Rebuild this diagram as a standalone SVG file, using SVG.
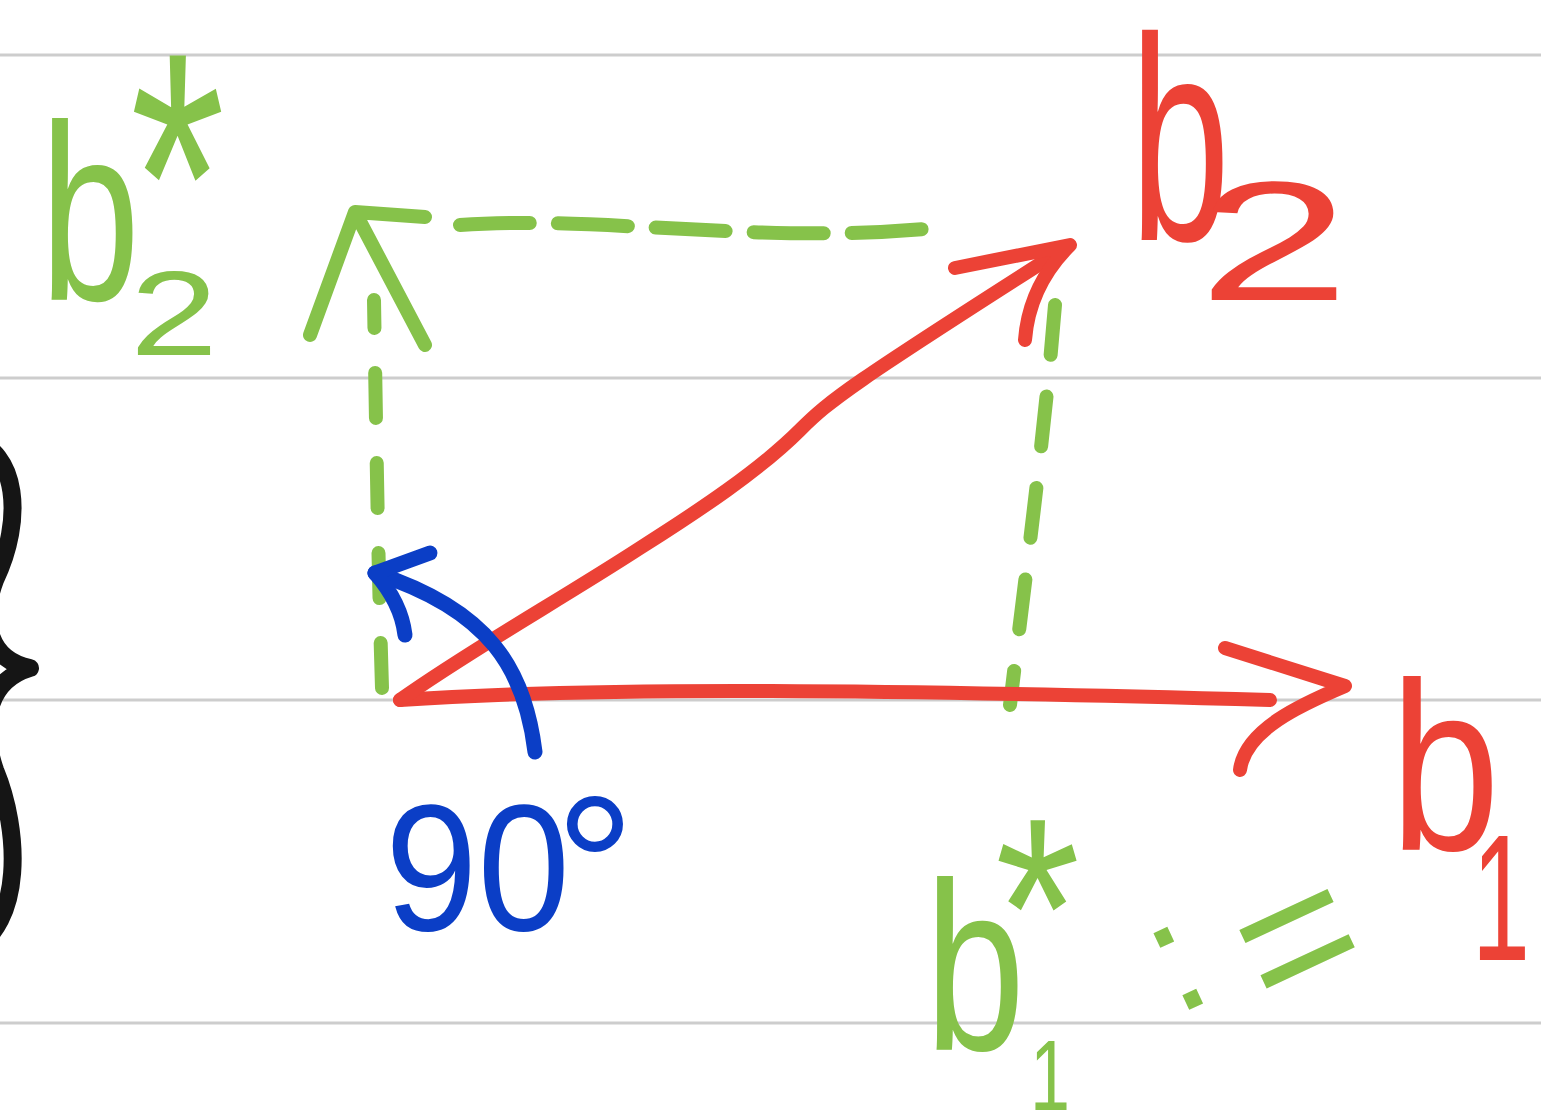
<svg xmlns="http://www.w3.org/2000/svg" width="1541" height="1118" viewBox="0 0 1541 1118">
<style>
.rule{stroke:#cdcdcd;stroke-width:3;fill:none}
.red{stroke:#ec4236;stroke-width:14;fill:none;stroke-linecap:round;stroke-linejoin:round}
.grn{stroke:#86c24a;stroke-width:14;fill:none;stroke-linecap:round;stroke-linejoin:round}
.blu{stroke:#0b3ec6;stroke-width:15;fill:none;stroke-linecap:round;stroke-linejoin:round}
.blk{stroke:#151515;stroke-width:18;fill:none;stroke-linecap:round;stroke-linejoin:round}
text{font-family:"Liberation Sans",Arial,sans-serif}
.tr{fill:#ec4236}
.tg{fill:#86c24a}
.tb{fill:#0b3ec6}
</style>
<rect width="1541" height="1118" fill="#ffffff"/>
<g id="rules">
<line class="rule" x1="0" y1="55" x2="1541" y2="55"/>
<line class="rule" x1="0" y1="378" x2="1541" y2="378"/>
<line class="rule" x1="0" y1="700" x2="1541" y2="700"/>
<line class="rule" x1="0" y1="1023" x2="1541" y2="1023"/>
</g>
<g id="brace">
<path class="blk" d="M-30,440 C18,450 24,520 -5,580 C-20,620 -12,660 30,668 C-10,680 -22,720 -5,770 C20,830 24,925 -30,950"/>
</g>
<g id="connectors">
<path class="grn" stroke-dasharray="45 45" d="M382,688 C378,560 376,420 374,300"/>
<path class="grn" d="M310,335 L355,212 L425,345 M355,212 L425,217"/>
<path class="grn" stroke-dasharray="70 28" d="M460,225 C600,215 760,245 935,228"/>
<path class="grn" stroke-dasharray="50 42" d="M1055,305 C1045,430 1025,580 1010,705"/>
<path class="red" d="M400,700 C600,686 900,690 1270,700"/>
<path class="red" d="M1225,648 L1345,686 C1300,705 1245,730 1240,770"/>
<path class="red" d="M400,700 C470,650 560,600 640,548 C700,510 760,470 800,430 C830,400 850,385 1065,248"/>
<path class="red" d="M955,268 L1070,245 C1045,270 1028,300 1025,340"/>
<path class="blu" d="M535,752 C525,670 490,610 375,573"/>
<path class="blu" d="M430,553 L375,573 C390,590 402,610 405,635"/>
</g>
<g id="label-b2">
<text class="tr" x="1130" y="240" font-size="290" textLength="100" lengthAdjust="spacingAndGlyphs">b</text>
<text class="tr" x="1198" y="300" font-size="170" textLength="152" lengthAdjust="spacingAndGlyphs">2</text>
</g>
<g id="label-b1">
<text class="tr" x="1390" y="850" font-size="240" textLength="110" lengthAdjust="spacingAndGlyphs">b</text>
<text class="tr" x="1472" y="960" font-size="180" textLength="58" lengthAdjust="spacingAndGlyphs">1</text>
</g>
<g id="label-b2star">
<text class="tg" x="40" y="300" font-size="250" textLength="100" lengthAdjust="spacingAndGlyphs">b</text>
<text class="tg" x="130" y="355" font-size="120" textLength="88" lengthAdjust="spacingAndGlyphs">2</text>
<text class="tg" x="130" y="301" font-size="357" textLength="95" lengthAdjust="spacingAndGlyphs">*</text>
</g>
<g id="label-b1star">
<text class="tg" x="925" y="1050" font-size="240" textLength="100" lengthAdjust="spacingAndGlyphs">b</text>
<text class="tg" x="1030" y="1110" font-size="100" textLength="40" lengthAdjust="spacingAndGlyphs">1</text>
<text class="tg" x="995" y="997" font-size="257" textLength="85" lengthAdjust="spacingAndGlyphs">*</text>
<text class="tg" x="1176" y="1016" font-size="160" transform="rotate(-25 1176 1016)">:</text>
<text class="tg" x="1272" y="1023" font-size="200" transform="rotate(-25 1272 1023)">=</text>
</g>
<g id="label-90">
<text class="tb" x="385" y="930" font-size="180" textLength="185" lengthAdjust="spacingAndGlyphs">90</text>
<text class="tb" x="555" y="936" font-size="200">°</text>
</g>
</svg>
